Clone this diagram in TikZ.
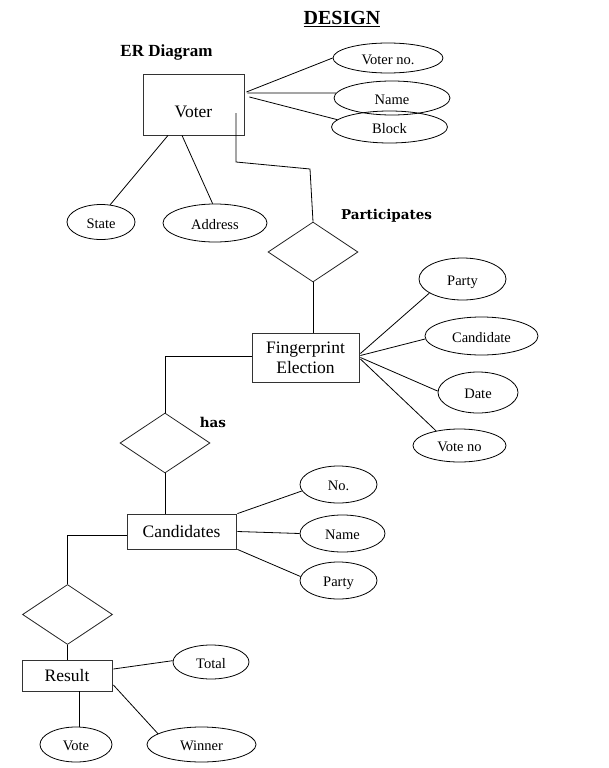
\documentclass[tikz,border=0pt]{standalone}
\usepackage{fontspec}
\setmainfont{Liberation Serif}
\newfontfamily\lblfont{DejaVu Serif}
\usetikzlibrary{shapes.geometric}
\begin{document}
\begin{tikzpicture}[x=1pt,y=-1pt,
  every path/.style={line width=0.8pt},
  ent/.style={draw=black!80, line width=0.8pt, rectangle, inner sep=0pt, font=\fontsize{17.5}{20}\selectfont, align=center},
  attr/.style={draw=black, line width=0.8pt, ellipse, inner sep=0pt, text height=12.5pt, text depth=0pt, font=\fontsize{14.5}{16}\selectfont},
  rel/.style={draw=black!85, line width=0.8pt, diamond, inner sep=0pt, minimum width=90pt, minimum height=60pt},
  conn/.style={draw=black, line width=0.8pt},
  boldlbl/.style={font=\lblfont\bfseries\fontsize{13.5}{15}\selectfont},
]
\useasboundingbox (0,0) rectangle (609,768);

% titles
\node (title) at (342,19) {\fontsize{20}{22}\selectfont\bfseries\underline{DESIGN}};
\node (erd) at (166.5,52) {\fontsize{17}{19}\selectfont\bfseries ER Diagram};

% entities
\node[ent, minimum width=101pt, minimum height=61pt] (voter) at (193.5,104.5) {};
\node[font=\fontsize{17.5}{20}\selectfont] (voterlbl) at (193.5,111.5) {Voter};
\node[ent, minimum width=107pt, minimum height=49pt] (fp) at (305.5,357.5) {Fingerprint\\Election};
\node[ent, minimum width=109pt, minimum height=35pt] (cand) at (181.5,531.5) {Candidates};
\node[ent, minimum width=90pt, minimum height=31pt] (res) at (67,675.5) {Result};

% relationships
\node[rel] (part) at (313,252) {};
\node[rel] (has) at (165,443) {};
\node[rel] (d3) at (67.5,614.5) {};
\node[boldlbl] (partlbl) at (386.5,216) {Participates};
\node[boldlbl] (haslbl) at (213,422) {has};

% attributes
\node[attr, minimum width=110pt, minimum height=30pt] (vno) at (388,58) {Voter no.};
\node[attr, minimum width=116pt, minimum height=34pt] (vname) at (392,98) {Name};
\node[attr, minimum width=116pt, minimum height=32pt] (vblock) at (389.5,127) {Block};
\node[attr, minimum width=68pt, minimum height=35pt] (state) at (101,222) {State};
\node[attr, minimum width=104pt, minimum height=38pt] (addr) at (215,223) {Address};

\node[attr, minimum width=87pt, minimum height=42pt] (fparty) at (462.5,279) {Party};
\node[attr, minimum width=113pt, minimum height=38pt] (fcand) at (481.5,336) {Candidate};
\node[attr, minimum width=80pt, minimum height=41pt] (fdate) at (478,392.5) {Date};
\node[attr, minimum width=93pt, minimum height=33pt] (fvno) at (459.5,445.5) {Vote no};

\node[attr, minimum width=77pt, minimum height=37pt] (cno) at (338.5,484.5) {No.};
\node[attr, minimum width=85pt, minimum height=37pt] (cname) at (342.5,533.5) {Name};
\node[attr, minimum width=77pt, minimum height=37pt] (cparty) at (338.5,580.5) {Party};

\node[attr, minimum width=76pt, minimum height=34pt] (total) at (211,662) {Total};
\node[attr, minimum width=72pt, minimum height=35pt] (vote) at (76,744.5) {Vote};
\node[attr, minimum width=109pt, minimum height=35pt] (winner) at (201.5,744.5) {Winner};

% voter attributes
\draw[conn] ([xshift=2pt,yshift=12.5pt]voter.east) -- (vno.west);
\draw[conn] ([xshift=3pt,yshift=11.5pt]voter.east) -- (vname.175);
\draw[conn] ([xshift=5pt,yshift=7.5pt]voter.east) -- (vblock.172);
\draw[conn] ([xshift=-25.5pt]voter.south) -- (state.62);
\draw[conn] ([xshift=-11.5pt]voter.south) -- (addr.97);

% voter -- participates
\coordinate (vin) at (236,113);
\coordinate (vb1) at (236,162);
\coordinate (vb2) at (310,169);
\draw[conn] (vin) -- (vb1) -- (vb2) -- (part.north);
\draw[conn] (part.south) -- (fp.north -| part.south);

% fingerprint attributes
\draw[conn] ([xshift=1pt,yshift=4pt]fp.east) -- (fparty.203);
\draw[conn] ([xshift=1pt,yshift=2pt]fp.east) -- (fcand.183);
\draw[conn] ([xshift=1pt]fp.east) -- (fdate.178);
\draw[conn] ([xshift=1pt,yshift=-1.5pt]fp.east) -- (fvno.148);

% fingerprint -- has -- candidates
\draw[conn] ([yshift=1.5pt]fp.west) -| (has.north);
\draw[conn] (has.south) -- (cand.north -| has.south);

% candidate attributes
\draw[conn] ([xshift=1pt]cand.north east) -- (cno.190);
\draw[conn] ([xshift=1pt]cand.east) -- (cname.west);
\draw[conn] ([xshift=1pt]cand.south east) -- (cparty.174);

% candidates -- d3 -- result
\draw[conn] ([yshift=-3.5pt]cand.west) -| (d3.north);
\draw[conn] (d3.south) -- (res.north -| d3.south);

% result attributes
\draw[conn] ([xshift=1pt,yshift=6.5pt]res.east) -- (total.178);
\draw[conn] ([xshift=12pt]res.south) coordinate (rv) -- (rv |- vote.north);
\draw[conn] ([xshift=1pt,yshift=-9.5pt]res.east) -- (winner.166);
\end{tikzpicture}
\end{document}
